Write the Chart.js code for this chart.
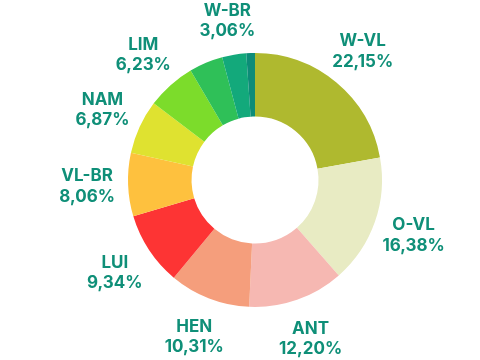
<!DOCTYPE html>
<html>
<head>
<meta charset="utf-8">
<script src="https://cdn.jsdelivr.net/npm/chart.js@4.4.1/dist/chart.umd.min.js"></script>
<style>
  html, body { margin: 0; padding: 0; background: #fff; }
  #wrap { width: 480px; height: 360px; }
</style>
</head>
<body>
<div id="wrap"><canvas id="drawChartProvinces"></canvas></div>
<script>
// provinces, clockwise from 12 o'clock (last two slices have no label in the picture)
const provinces = ['W-VL', 'O-VL', 'ANT', 'HEN', 'LUI', 'VL-BR', 'NAM', 'LIM', '', 'W-BR', ''];
const shares = [22.15, 16.38, 12.20, 10.31, 9.34, 8.06, 6.87, 6.23, 4.30, 3.06, 1.10];
const sliceColors = ['#afb92f', '#e8ebc3', '#f6b8b2', '#f59e7c', '#fd3434', '#fec13e',
                     '#dfe230', '#7cdc2b', '#2fc058', '#13a97b', '#0d8c78'];

const TEXT_COLOR = '#0f8f78';

// draws "NAME / xx,xx%" outside each labelled slice
const outsideLabels = {
  id: 'outsideLabels',
  afterDatasetsDraw(chart) {
    const ctx = chart.ctx;
    const meta = chart.getDatasetMeta(0);
    ctx.save();
    ctx.fillStyle = TEXT_COLOR;
    ctx.font = 'bold 17px Inter, sans-serif';
    ctx.textAlign = 'center';
    ctx.textBaseline = 'middle';
    meta.data.forEach((arc, i) => {
      if (!provinces[i]) return;
      const mid = (arc.startAngle + arc.endAngle) / 2;
      const r = arc.outerRadius + 41;
      const x = arc.x + Math.cos(mid) * r;
      // keep the top label inside the canvas
      const y = Math.max(arc.y + Math.sin(mid) * r, 20.5);
      ctx.fillText(provinces[i], x, y - 10);
      ctx.fillText(shares[i].toFixed(2).replace('.', ',') + '%', x, y + 10.5);
    });
    ctx.restore();
  }
};

new Chart(document.getElementById('drawChartProvinces'), {
  type: 'doughnut',
  data: {
    labels: provinces,
    datasets: [{
      data: shares,
      backgroundColor: sliceColors,
      borderWidth: 0
    }]
  },
  options: {
    responsive: true,
    maintainAspectRatio: false,
    animation: false,
    cutout: '50%',
    layout: { padding: { left: 128, right: 98, top: 53, bottom: 53 } },
    plugins: {
      legend: { display: false },
      tooltip: { enabled: false }
    }
  },
  plugins: [outsideLabels]
});
</script>
</body>
</html>
